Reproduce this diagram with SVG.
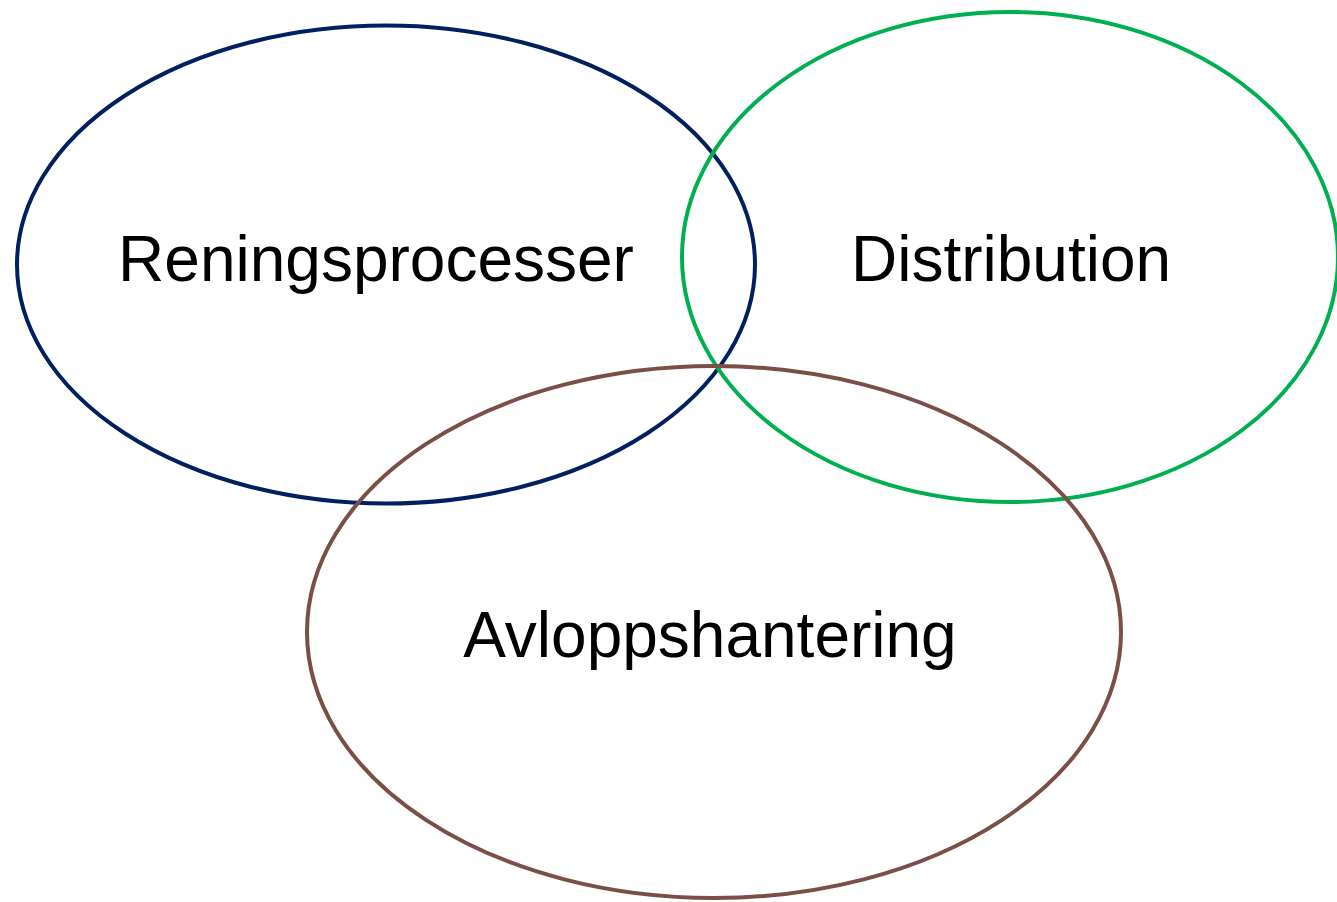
<svg xmlns="http://www.w3.org/2000/svg" width="1337" height="902" viewBox="0 0 1337 902">
<style>
.e{fill:none;stroke-width:4}
.t{font-family:"Liberation Sans",Arial,sans-serif;font-size:64px;fill:#000;text-anchor:middle}
</style>
<rect width="1337" height="902" fill="#fff"/>
<g id="rening"><ellipse class="e" cx="386" cy="264.5" rx="369" ry="239" stroke="#002060"/><text class="t" x="376" y="281">Reningsprocesser</text></g>
<g id="distribution"><ellipse class="e" cx="1010" cy="257" rx="328" ry="245" stroke="#00b050"/><text class="t" x="1011" y="281">Distribution</text></g>
<g id="avlopp"><ellipse class="e" cx="714" cy="632" rx="407" ry="266" stroke="#7a4f47"/><text class="t" x="710" y="657">Avloppshantering</text></g>
<g id="connectors"/>
</svg>
